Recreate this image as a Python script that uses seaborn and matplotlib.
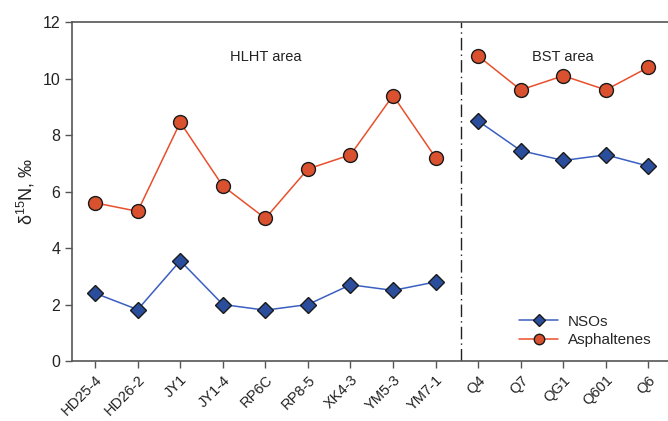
import numpy as np
import pandas as pd
import matplotlib
matplotlib.use("Agg")
import matplotlib.pyplot as plt
import seaborn as sns

samples = ["HD25-4", "HD26-2", "JY1", "JY1-4", "RP6C", "RP8-5", "XK4-3", "YM5-3",
           "YM7-1", "Q4", "Q7", "QG1", "Q601", "Q6"]
areas = ["HLHT"] * 9 + ["BST"] * 5
nsos = [2.4, 1.82, 3.55, 2.0, 1.8, 2.0, 2.7, 2.5, 2.8, 8.5, 7.45, 7.1, 7.3, 6.9]
asphaltenes = [5.6, 5.3, 8.45, 6.2, 5.05, 6.8, 7.3, 9.4, 7.2, 10.8, 9.6, 10.1, 9.6, 10.4]
y_ticks = [0, 2, 4, 6, 8, 10, 12]

df = pd.concat([
    pd.DataFrame({"sample": samples, "area": areas, "value": nsos, "fraction": "NSOs"}),
    pd.DataFrame({"sample": samples, "area": areas, "value": asphaltenes,
                  "fraction": "Asphaltenes"}),
])

sns.set_style("ticks")
plt.rcParams["font.family"] = ["Liberation Sans", "DejaVu Sans"]
plt.rcParams["mathtext.fontset"] = "custom"
plt.rcParams["mathtext.rm"] = "Liberation Sans"

fig = plt.figure(figsize=(6.68, 4.21), dpi=100)
ax = fig.add_axes([0.108, 0.1425, 0.892, 0.805])

# fix the category order on the x axis
ax.plot(samples, [np.nan] * len(samples))

line_colors = {"NSOs": "#3a5fc0", "Asphaltenes": "#e8502c"}
face_colors = {"NSOs": "#2a4d9c", "Asphaltenes": "#d9512e"}
marker_map = {"NSOs": "D", "Asphaltenes": "o"}
size_map = {"NSOs": 8.5, "Asphaltenes": 10}

for frac in ["NSOs", "Asphaltenes"]:
    for i, area in enumerate(["HLHT", "BST"]):
        sub = df[(df["fraction"] == frac) & (df["area"] == area)]
        sns.lineplot(data=sub, x="sample", y="value", sort=False, ax=ax,
                     color=line_colors[frac], linewidth=1.1, marker=marker_map[frac],
                     markersize=size_map[frac], markerfacecolor=face_colors[frac],
                     markeredgecolor="#1a1a1a", markeredgewidth=1.0,
                     label=frac if i == 0 else "_nolegend_")

ax.set_xlim(-0.54, 13.46)
ax.set_ylim(0, 12)
ax.set_yticks(y_ticks)
ax.axvline(8.6, color="#222222", linewidth=1.0, linestyle=(0, (9, 3, 1, 3)))

ax.text(4.0, 10.75, "HLHT area", ha="center", va="center", fontsize=10.5, color="#222222")
ax.text(11.0, 10.75, "BST area", ha="center", va="center", fontsize=10.5, color="#222222")

ax.set_xlabel("")
ax.set_ylabel("δ$^{\\mathrm{15}}$N, ‰", fontsize=13, color="#222222", labelpad=4)
ax.tick_params(axis="both", direction="out", length=5, width=1, colors="#555555",
               labelcolor="#222222")
ax.tick_params(axis="y", labelsize=11.5)
ax.tick_params(axis="x", labelsize=10.5)
for lab in ax.get_xticklabels():
    lab.set_rotation(45)
    lab.set_ha("right")
    lab.set_rotation_mode("anchor")

for side in ["left", "bottom", "top"]:
    ax.spines[side].set_color("#555555")
    ax.spines[side].set_linewidth(1.2)
ax.spines["right"].set_visible(False)

leg = ax.legend(loc="lower right", bbox_to_anchor=(0.995, 0.0), frameon=False,
                fontsize=11, handlelength=2.6, labelspacing=0.3, handletextpad=0.6,
                markerscale=0.75)

fig.savefig("out.png", dpi=100)
